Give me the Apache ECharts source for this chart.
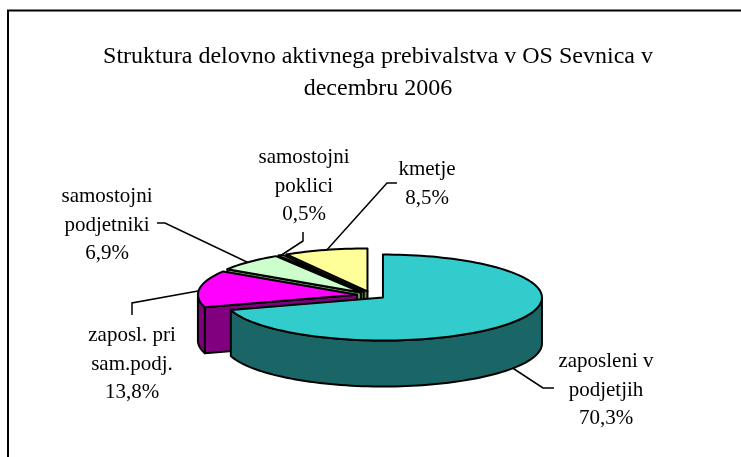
<!DOCTYPE html>
<html><head><meta charset="utf-8">
<style>html,body{margin:0;padding:0;background:#fff}#c{width:741px;height:457px}</style>
<script src="https://cdn.jsdelivr.net/npm/echarts@6/dist/echarts.min.js"></script>
</head><body><div id="c"></div>
<script>
const titleLines = ['Struktura delovno aktivnega prebivalstva v OS Sevnica v', 'decembru 2006'];
const categories = ['zaposleni v\npodjetjih', 'zaposl. pri\nsam.podj.', 'samostojni\npodjetniki', 'samostojni\npoklici', 'kmetje'];
const values = [70.3, 13.8, 6.9, 0.5, 8.5];
const topColors = ['#33CCCC', '#FF00FF', '#CCFFCC', '#CCFFCC', '#FFFF99'];
const sideColors = ['#1A6666', '#800080', '#669966', '#669966', '#808040'];
// layout
const C = {x: 371.3, y: 295.2, rx: 159, ry: 43, depth: 46, ex: 14.5, ey: 3.9};
const labelPos = [[606, 390], [132, 364], [107, 225], [304, 186], [427, 184]];
const leaders = [
  [[511,367],[543,388],[554,388]],
  [[198,291],[132,303],[132,315]],
  [[249,263],[165,223],[157,223]],
  [[280,256],[303,241],[303,232]],
  [[325,252],[387,183],[397,183]]
];
const total = values.reduce((a, b) => a + b, 0);
const rad = d => d * Math.PI / 180;
const starts = [];
values.reduce((acc, v, i) => { starts[i] = acc; return acc + v / total * 360; }, 0);
function pt(c, a, dz) {
  return [c.x + C.rx * Math.sin(rad(a)), c.y - C.ry * Math.cos(rad(a)) + (dz || 0)];
}
function arc(c, a0, a1, dz) {
  const out = [], n = Math.max(2, Math.ceil(Math.abs(a1 - a0) / 2));
  for (let i = 0; i <= n; i++) out.push(pt(c, a0 + (a1 - a0) * i / n, dz));
  return out;
}
function renderItem(params, api) {
  const i = api.value(0);
  const a0 = starts[i], a1 = a0 + api.value(1) / total * 360, mid = (a0 + a1) / 2;
  const c = {x: C.x + C.ex * Math.sin(rad(mid)), y: C.y - C.ey * Math.cos(rad(mid))};
  const ln = {stroke: '#000', lineWidth: 2, lineJoin: 'round'};
  const kids = [];
  const poly = (points, fill) => kids.push({type: 'polygon', shape: {points}, style: Object.assign({fill}, ln)});
  // cut face at the start angle is visible when it faces the viewer
  if (a0 > 180 && a0 < 360) {
    const p = pt(c, a0), q = pt(c, a0, C.depth);
    poly([[c.x, c.y], p, q, [c.x, c.y + C.depth]], sideColors[i]);
  }
  // outer wall: the part between 90 and 270 degrees
  const w0 = Math.max(a0, 90), w1 = Math.min(a1, 270);
  if (w1 > w0) poly(arc(c, w0, w1).concat(arc(c, w1, w0, C.depth)), sideColors[i]);
  // top
  poly([[c.x, c.y]].concat(arc(c, a0, a1)), topColors[i]);
  return {type: 'group', children: kids};
}
function renderLabels(params, api) {
  const i = api.value(0);
  const pct = api.value(1).toFixed(1).replace('.', ',') + '%';
  return {type: 'group', children: [
    {type: 'polyline', shape: {points: leaders[i]}, style: {fill: 'none', stroke: '#000', lineWidth: 1.5}},
    {type: 'text', style: {x: labelPos[i][0], y: labelPos[i][1], text: categories[i] + '\n' + pct,
      fill: '#000', font: '21px "Liberation Serif"', lineHeight: 28.5, align: 'center', verticalAlign: 'middle'}}
  ]};
}
const rows = values.map((v, i) => [i, v]);
const order = [4, 3, 2, 1, 0];
const chart = echarts.init(document.getElementById('c'), null, {renderer: 'canvas'});
chart.setOption({
  animation: false,
  backgroundColor: '#fff',
  title: {text: titleLines.join('\n'), left: 373, top: 36, textAlign: 'center',
    textStyle: {fontFamily: 'Liberation Serif', fontSize: 24, fontWeight: 'normal', color: '#000', lineHeight: 32}},
  graphic: [{type: 'polyline', silent: true, shape: {points: [[8, 457], [8, 10.5], [741, 10.5]]},
    style: {fill: 'none', stroke: '#000', lineWidth: 2}}],
  series: [
    {type: 'custom', coordinateSystem: 'none', renderItem: renderLabels, data: rows, silent: true, z: 1},
    {type: 'custom', coordinateSystem: 'none', renderItem, data: order.map(i => rows[i]), silent: true, z: 2}
  ]
});
</script></body></html>
